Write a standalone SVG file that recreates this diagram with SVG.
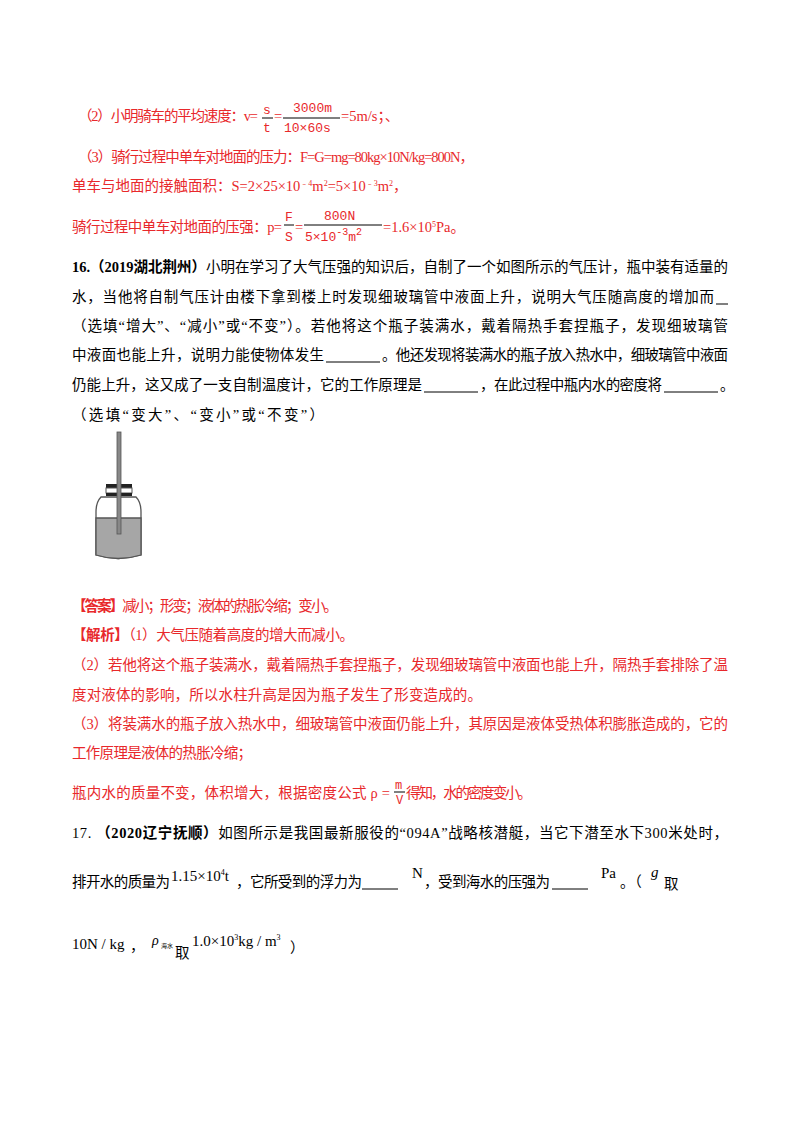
<svg xmlns="http://www.w3.org/2000/svg" width="800" height="1132" viewBox="0 0 800 1132">
<style>
svg{font-family:"Liberation Serif","Noto Sans CJK SC",serif;font-size:14.5px}
text{fill:#000}
.r{fill:#e8282b}
.b{font-weight:bold}
.m{font-family:"Liberation Mono","Noto Sans CJK SC",monospace}
</style>
<rect width="800" height="1132" fill="#fff"/>
<g id="solution15">
<text class="r" x="78" y="121" textLength="180" lengthAdjust="spacing">（2）小明骑车的平均速度：v=</text>
<text class="r m" x="263" y="114" font-size="13">s</text>
<line x1="262" y1="118" x2="273" y2="118" stroke="#000" stroke-width="1"/>
<text class="r m" x="263" y="132" font-size="13">t</text>
<text class="r" x="274" y="121">=</text>
<text class="r m" x="293" y="112" font-size="13">3000m</text>
<line x1="283" y1="118" x2="340" y2="118" stroke="#000" stroke-width="1"/>
<text class="r m" x="284" y="132" font-size="13">10×60s</text>
<text class="r" x="341" y="121">=5m/s；、</text>
<text class="r" x="78" y="162" textLength="396" lengthAdjust="spacing">（3）骑行过程中单车对地面的压力：F=G=mg=80kg×10N/kg=800N，</text>
<text class="r" x="72" y="191">单车与地面的接触面积：S=2×25×10<tspan font-size="8" dy="-5">﹣4</tspan><tspan dy="5">m</tspan><tspan font-size="8" dy="-5">2</tspan><tspan dy="5">=5×10</tspan><tspan font-size="8" dy="-5">﹣3</tspan><tspan dy="5">m</tspan><tspan font-size="8" dy="-5">2</tspan><tspan dy="5">，</tspan></text>
<text class="r" x="72" y="232" textLength="210" lengthAdjust="spacing">骑行过程中单车对地面的压强：p=</text>
<text class="r m" x="285" y="221" font-size="13">F</text>
<line x1="284" y1="225" x2="294" y2="225" stroke="#000" stroke-width="1"/>
<text class="r m" x="285" y="241" font-size="13">S</text>
<text class="r" x="295" y="232">=</text>
<line x1="304" y1="225" x2="382" y2="225" stroke="#000" stroke-width="1"/>
<text class="r m" x="324" y="220" font-size="13">800N</text>
<text class="r m" x="305" y="241" font-size="13">5×10<tspan font-size="10" dy="-6">-3</tspan><tspan dy="6">m</tspan><tspan font-size="10" dy="-6">2</tspan></text>
<text class="r" x="383" y="232">=1.6×10<tspan font-size="8" dy="-5">5</tspan><tspan dy="5">Pa。</tspan></text>
</g>
<g id="question16">
<text x="72" y="272" textLength="656" lengthAdjust="spacing"><tspan class="b">16.（2019湖北荆州）</tspan>小明在学习了大气压强的知识后，自制了一个如图所示的气压计，瓶中装有适量的</text>
<text x="72" y="302" textLength="642" lengthAdjust="spacing">水，当他将自制气压计由楼下拿到楼上时发现细玻璃管中液面上升，说明大气压随高度的增加而</text>
<line x1="716" y1="304" x2="728" y2="304" stroke="#000"/>
<text x="72" y="331" textLength="656" lengthAdjust="spacing">（选填“增大”、“减小”或“不变”）。若他将这个瓶子装满水，戴着隔热手套捏瓶子，发现细玻璃管</text>
<text x="72" y="360" textLength="252" lengthAdjust="spacing">中液面也能上升，说明力能使物体发生</text>
<line x1="326" y1="362" x2="380" y2="362" stroke="#000"/>
<text x="382" y="360" textLength="346" lengthAdjust="spacing">。他还发现将装满水的瓶子放入热水中，细玻璃管中液面</text>
<text x="72" y="390" textLength="350" lengthAdjust="spacing">仍能上升，这又成了一支自制温度计，它的工作原理是</text>
<line x1="424" y1="392" x2="478" y2="392" stroke="#000"/>
<text x="480" y="390" textLength="182" lengthAdjust="spacing">，在此过程中瓶内水的密度将</text>
<line x1="664" y1="392" x2="718" y2="392" stroke="#000"/>
<text x="720" y="390">。</text>
<text x="72" y="420" textLength="252" lengthAdjust="spacing">（选填“变大”、“变小”或“不变”）</text>
</g>
<g id="bottle">
<path d="M101,497 Q96,502 96,512 L96,555 Q118,562 141,555 L141,512 Q141,502 136,497 Z" fill="#fff" stroke="#555" stroke-width="1.3"/>
<path d="M96,518 L141,518 L141,555 Q118,562 96,555 Z" fill="#a6a6a6" stroke="#555" stroke-width="1.3"/>
<rect x="106" y="484" width="26" height="4" fill="#222"/>
<rect x="106" y="488" width="26" height="5" fill="#fff" stroke="#555"/>
<rect x="106" y="493" width="26" height="3" fill="#222"/>
<rect x="117" y="432" width="4" height="102" fill="#888" stroke="#555" stroke-width="0.8"/>
</g>
<g id="answer16">
<text class="r" x="72" y="611" textLength="266" lengthAdjust="spacing"><tspan class="b">【答案】</tspan>减小；形变；液体的热胀冷缩；变小。</text>
<text class="r" x="72" y="640" textLength="282" lengthAdjust="spacing"><tspan class="b">【解析】</tspan>（1）大气压随着高度的增大而减小。</text>
<text class="r" x="72" y="670" textLength="656" lengthAdjust="spacing">（2）若他将这个瓶子装满水，戴着隔热手套捏瓶子，发现细玻璃管中液面也能上升，隔热手套排除了温</text>
<text class="r" x="72" y="700" textLength="410" lengthAdjust="spacing">度对液体的影响，所以水柱升高是因为瓶子发生了形变造成的。</text>
<text class="r" x="72" y="729" textLength="656" lengthAdjust="spacing">（3）将装满水的瓶子放入热水中，细玻璃管中液面仍能上升，其原因是液体受热体积膨胀造成的，它的</text>
<text class="r" x="72" y="758" textLength="180" lengthAdjust="spacing">工作原理是液体的热胀冷缩；</text>
<text class="r" x="72" y="798" textLength="318" lengthAdjust="spacing">瓶内水的质量不变，体积增大，根据密度公式 ρ =</text>
<text class="r m" x="395" y="789" font-size="12">m</text>
<line x1="394" y1="792" x2="405" y2="792" stroke="#000"/>
<text class="r m" x="396" y="804" font-size="12">V</text>
<text class="r" x="406" y="798" textLength="126" lengthAdjust="spacing">得知，水的密度变小。</text>
</g>
<g id="question17">
<text x="72" y="838" textLength="656" lengthAdjust="spacing">17. <tspan class="b">（2020辽宁抚顺）</tspan>如图所示是我国最新服役的“094A”战略核潜艇，当它下潜至水下300米处时，</text>
<text x="72" y="887" textLength="98" lengthAdjust="spacing">排开水的质量为</text>
<text x="171" y="881" font-size="15">1.15×10<tspan font-size="8" dy="-6">4</tspan><tspan dy="6">t</tspan></text>
<text x="236" y="887" textLength="126" lengthAdjust="spacing">，它所受到的浮力为</text>
<line x1="362" y1="889" x2="398" y2="889" stroke="#000"/>
<text x="412" y="878" font-size="15">N</text>
<text x="424" y="887" textLength="126" lengthAdjust="spacing">，受到海水的压强为</text>
<line x1="552" y1="889" x2="588" y2="889" stroke="#000"/>
<text x="601" y="878" font-size="15">Pa</text>
<text x="620" y="887">。（</text>
<text x="651" y="877" font-size="15" font-style="italic">g</text>
<text x="664" y="889">取</text>
<text x="72" y="949" font-size="15">10N / kg</text>
<text x="130" y="951">，</text>
<text x="133" y="947" font-size="14" font-style="italic" dx="0">  </text>
<text x="152" y="945" font-size="14" font-style="italic">ρ</text>
<text x="161" y="948" font-size="6">海水</text>
<text x="175" y="958">取</text>
<text x="192" y="946" font-size="15">1.0×10<tspan font-size="8" dy="-6">3</tspan><tspan dy="6">kg / m</tspan><tspan font-size="8" dy="-6">3</tspan></text>
<text x="290" y="953">）</text>
</g>
</svg>
